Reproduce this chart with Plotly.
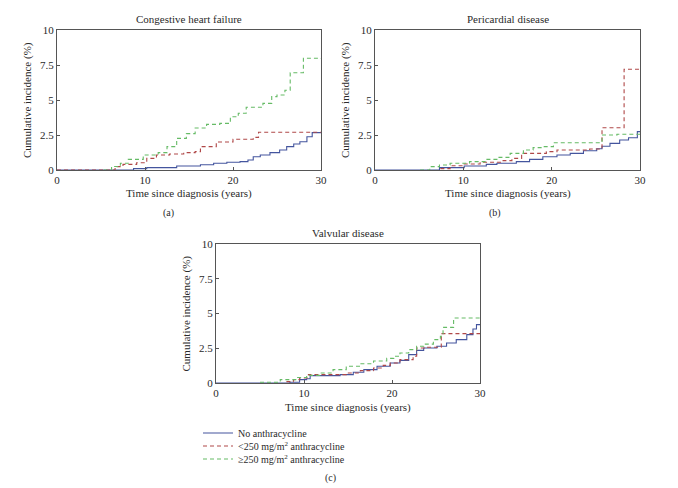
import plotly.graph_objects as go

# page body has an 8px margin; the figure is sized/positioned to compensate
OX, OY = 8, 8
W, H = 670, 480

series_names = ["No anthracycline",
                "&lt;250 mg/m<sup>2</sup> anthracycline",
                "≥250 mg/m<sup>2</sup> anthracycline"]
series_colors = ["#44559e", "#b04848", "#66bb66"]
series_dash = ["solid", "4px,3px", "4px,3px"]

panel_titles = ["Congestive heart failure", "Pericardial disease", "Valvular disease"]
panel_labels = ["(a)", "(b)", "(c)"]
x_ticks = [0, 10, 20, 30]
y_ticks = [0, 2.5, 5, 7.5, 10]
y_tick_text = ["0", "2.5", "5", "7.5", "10"]
x_title = "Time since diagnosis (years)"
y_title = "Cumulative incidence (%)"

# Panel (a): congestive heart failure
chf_blue_x = [0, 5.3, 8.7, 10.2, 13.6, 16.3, 17.8, 19.3, 20.8, 21.7, 22.3, 23.1, 24.2, 25.3, 26.1, 26.9, 27.6, 28.4, 29.0, 30]
chf_blue_y = [0, 0, 0.1, 0.17, 0.29, 0.38, 0.48, 0.55, 0.6, 0.71, 0.95, 1.07, 1.24, 1.43, 1.67, 1.86, 2.02, 2.38, 2.67, 2.7]
chf_red_x = [0, 6.0, 6.6, 7.5, 9.05, 10.2, 11.3, 12.8, 14.4, 15.7, 16.3, 18.1, 20.0, 22.3, 22.9, 30]
chf_red_y = [0, 0, 0.24, 0.4, 0.52, 0.83, 1.07, 1.14, 1.24, 1.31, 1.67, 2.0, 2.2, 2.33, 2.7, 2.7]
chf_green_x = [5.3, 6.2, 7.2, 8.1, 9.8, 11.5, 12.5, 13.6, 14.7, 15.7, 17.0, 18.5, 19.7, 20.6, 21.5, 22.7, 23.4, 24.4, 25.0, 25.9, 26.5, 28.0, 30]
chf_green_y = [0, 0.25, 0.48, 0.76, 1.07, 1.24, 1.67, 2.26, 2.6, 3.0, 3.26, 3.33, 3.8, 4.05, 4.48, 4.48, 4.76, 5.24, 5.36, 5.7, 6.95, 7.98, 8.0]

# Panel (b): pericardial disease
per_blue_x = [0, 4.7, 7.3, 10.1, 12.6, 13.8, 16.0, 17.5, 19.0, 20.6, 22.1, 23.6, 25.1, 25.7, 26.6, 27.7, 28.7, 29.7, 30]
per_blue_y = [0, 0, 0.17, 0.29, 0.4, 0.48, 0.6, 0.76, 0.95, 1.07, 1.19, 1.38, 1.52, 1.7, 1.9, 2.14, 2.3, 2.74, 2.74]
per_red_x = [7.4, 8.5, 10.1, 11.9, 14.5, 15.5, 16.6, 19.4, 20.6, 24.3, 25.7, 28.2, 30]
per_red_y = [0.1, 0.3, 0.43, 0.55, 0.67, 0.83, 1.19, 1.31, 1.43, 1.5, 3.02, 7.2, 7.2]
per_green_x = [5.1, 6.2, 7.3, 8.5, 10.7, 12.6, 13.8, 15.3, 16.8, 17.9, 19.0, 20.2, 25.7, 27.4, 30]
per_green_y = [0, 0.24, 0.36, 0.48, 0.6, 0.76, 0.9, 1.19, 1.43, 1.6, 1.67, 1.95, 2.5, 2.55, 2.6]

# Panel (c): valvular disease
val_blue_x = [0, 5.0, 8.4, 9.5, 10.3, 10.7, 14.1, 15.6, 16.8, 18.3, 19.8, 20.9, 21.9, 22.8, 23.6, 25.1, 26.2, 27.3, 28.5, 29.2, 29.6, 30]
val_blue_y = [0, 0, 0.05, 0.24, 0.31, 0.53, 0.6, 0.77, 0.96, 1.2, 1.44, 1.63, 2.04, 2.35, 2.52, 2.64, 2.88, 3.12, 3.48, 3.88, 4.2, 4.2]
val_red_x = [8.0, 8.8, 9.5, 10.5, 14.8, 16.4, 17.9, 19.0, 19.8, 20.9, 22.4, 22.8, 23.9, 25.6, 30]
val_red_y = [0.1, 0.24, 0.36, 0.6, 0.72, 0.89, 1.08, 1.27, 1.44, 1.68, 1.92, 2.52, 2.57, 3.55, 3.55]
val_green_x = [5.0, 7.3, 9.2, 10.3, 11.8, 13.3, 14.8, 16.4, 17.9, 19.4, 20.2, 20.9, 21.9, 22.8, 23.6, 24.7, 25.5, 25.8, 27.0, 30]
val_green_y = [0.05, 0.24, 0.4, 0.55, 0.72, 0.96, 1.2, 1.39, 1.58, 1.77, 1.92, 2.16, 2.4, 2.64, 2.8, 3.12, 3.36, 4.0, 4.68, 4.7]

panels = [
    [(chf_blue_x, chf_blue_y), (chf_red_x, chf_red_y), (chf_green_x, chf_green_y)],
    [(per_blue_x, per_blue_y), (per_red_x, per_red_y), (per_green_x, per_green_y)],
    [(val_blue_x, val_blue_y), (val_red_x, val_red_y), (val_green_x, val_green_y)],
]

# plot-area boxes in screen pixels (left, right, top, bottom)
boxes = [(57, 321, 30, 170), (375, 640, 30, 170), (216, 480, 244, 383)]
legend_rows = [433, 446, 459]


def px(x):
    return (x - OX) / W


def py(y):
    return (H - (y - OY)) / H


FONT = "Liberation Serif"
TXT = "#2a2a2a"
fig = go.Figure()

legend_keys = ["legend", "legend2", "legend3"]
for p, data in enumerate(panels):
    xa = "x" if p == 0 else f"x{p+1}"
    ya = "y" if p == 0 else f"y{p+1}"
    for s, (xs, ys) in enumerate(data):
        fig.add_trace(go.Scatter(
            x=xs, y=ys, mode="lines", line_shape="hv",
            line=dict(color=series_colors[s], width=1.1, dash=series_dash[s]),
            name=series_names[s], showlegend=(p == 2), legend=legend_keys[s],
            xaxis=xa, yaxis=ya, hoverinfo="skip"))

layout = dict(width=W, height=H,
              margin=dict(l=0, r=0, t=0, b=0, autoexpand=False),
              paper_bgcolor="white", plot_bgcolor="white",
              font=dict(family=FONT, size=11, color=TXT))

annotations = []
for p, (l, r, t, b) in enumerate(boxes):
    key = "" if p == 0 else str(p + 1)
    common = dict(showgrid=False, zeroline=False, showline=True, mirror=True,
                  linecolor="#555", linewidth=1, ticks="inside", ticklen=3,
                  tickcolor="#555", tickfont=dict(family=FONT, size=11, color=TXT))
    layout["xaxis" + key] = dict(domain=[px(l), px(r)], range=[0, 30],
                                 tickvals=x_ticks, anchor="y" + key, **common)
    layout["yaxis" + key] = dict(domain=[py(b), py(t)], range=[0, 10],
                                 tickvals=y_ticks, ticktext=y_tick_text,
                                 anchor="x" + key, **common)
    cx = (l + r) / 2
    annotations.append(dict(text=panel_titles[p], x=px(cx), y=py(t - 11),
                            xref="paper", yref="paper", showarrow=False,
                            xanchor="center", yanchor="middle",
                            font=dict(family=FONT, size=11, color=TXT)))
    annotations.append(dict(text=x_title, x=px(cx), y=py(b + 24),
                            xref="paper", yref="paper", showarrow=False,
                            xanchor="center", yanchor="middle",
                            font=dict(family=FONT, size=11, color=TXT)))
    annotations.append(dict(text=y_title, x=px(l - 30), y=py((t + b) / 2),
                            xref="paper", yref="paper", showarrow=False, textangle=-90,
                            xanchor="center", yanchor="middle",
                            font=dict(family=FONT, size=11, color=TXT)))

label_pos = [(168, 213), (495, 213), (330, 478)]
for p, (lx, ly) in enumerate(label_pos):
    annotations.append(dict(text=panel_labels[p], x=px(lx), y=py(ly),
                            xref="paper", yref="paper", showarrow=False,
                            xanchor="center", yanchor="middle",
                            font=dict(family=FONT, size=10, color=TXT)))

layout["annotations"] = annotations
for k, row in zip(legend_keys, legend_rows):
    layout[k] = dict(x=px(198), y=py(row), xanchor="left", yanchor="middle",
                     bgcolor="rgba(0,0,0,0)", borderwidth=0, tracegroupgap=0,
                     font=dict(family=FONT, size=10, color=TXT), itemwidth=30)
fig.update_layout(**layout)
fig.write_html("out.html")
